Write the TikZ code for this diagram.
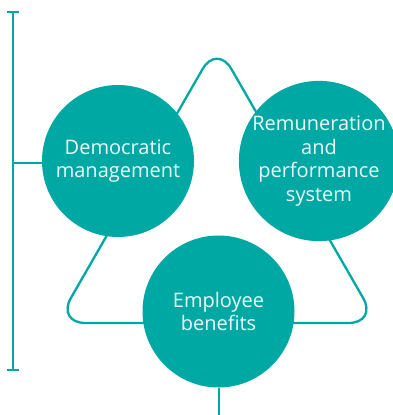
\documentclass[tikz,border=0pt]{standalone}
\usepackage{fontspec}
\setmainfont{Open Sans}
\definecolor{teal1}{RGB}{0,168,164}
\begin{document}
\begin{tikzpicture}[x=1pt,y=-1pt,
  bubble/.style={circle,fill=teal1,minimum size=152pt,inner sep=0pt,text=white!92!teal1,align=center,font=\fontsize{20}{23.5}\selectfont},
  link/.style={draw=teal1,line width=2.3pt},
  brace/.style={draw=teal1,line width=2pt}]
\useasboundingbox (0,0) rectangle (392,415);
% rounded triangle
\coordinate (ta) at (217,44);
\coordinate (tl) at (56.5,323);
\coordinate (tr) at (377.5,323);
\draw[link,rounded corners=29pt] (217,323) -- (tl) -- (ta) -- (tr) -- cycle;
% bracket
\coordinate (bt) at (13,12);
\coordinate (bb) at (13,370);
\coordinate (bm) at (13,163);
\draw[brace] (bt) -- (bb);
\draw[brace] (7,12) -- (19,12);
\draw[brace] (7,370) -- (19,370);
\node[bubble] (dm) at (118,161) {Democratic\\management};
\draw[brace] (bm) -- (dm.west |- bm);
\node[bubble] (rp) at (319,161) {Remuneration\\and\\performance\\system};
\node[bubble] (eb) at (218.5,311.5) {Employee\\benefits};
\coordinate (bot) at (218.5,415);
\draw[brace] (eb.south) -- (bot);
\end{tikzpicture}
\end{document}
